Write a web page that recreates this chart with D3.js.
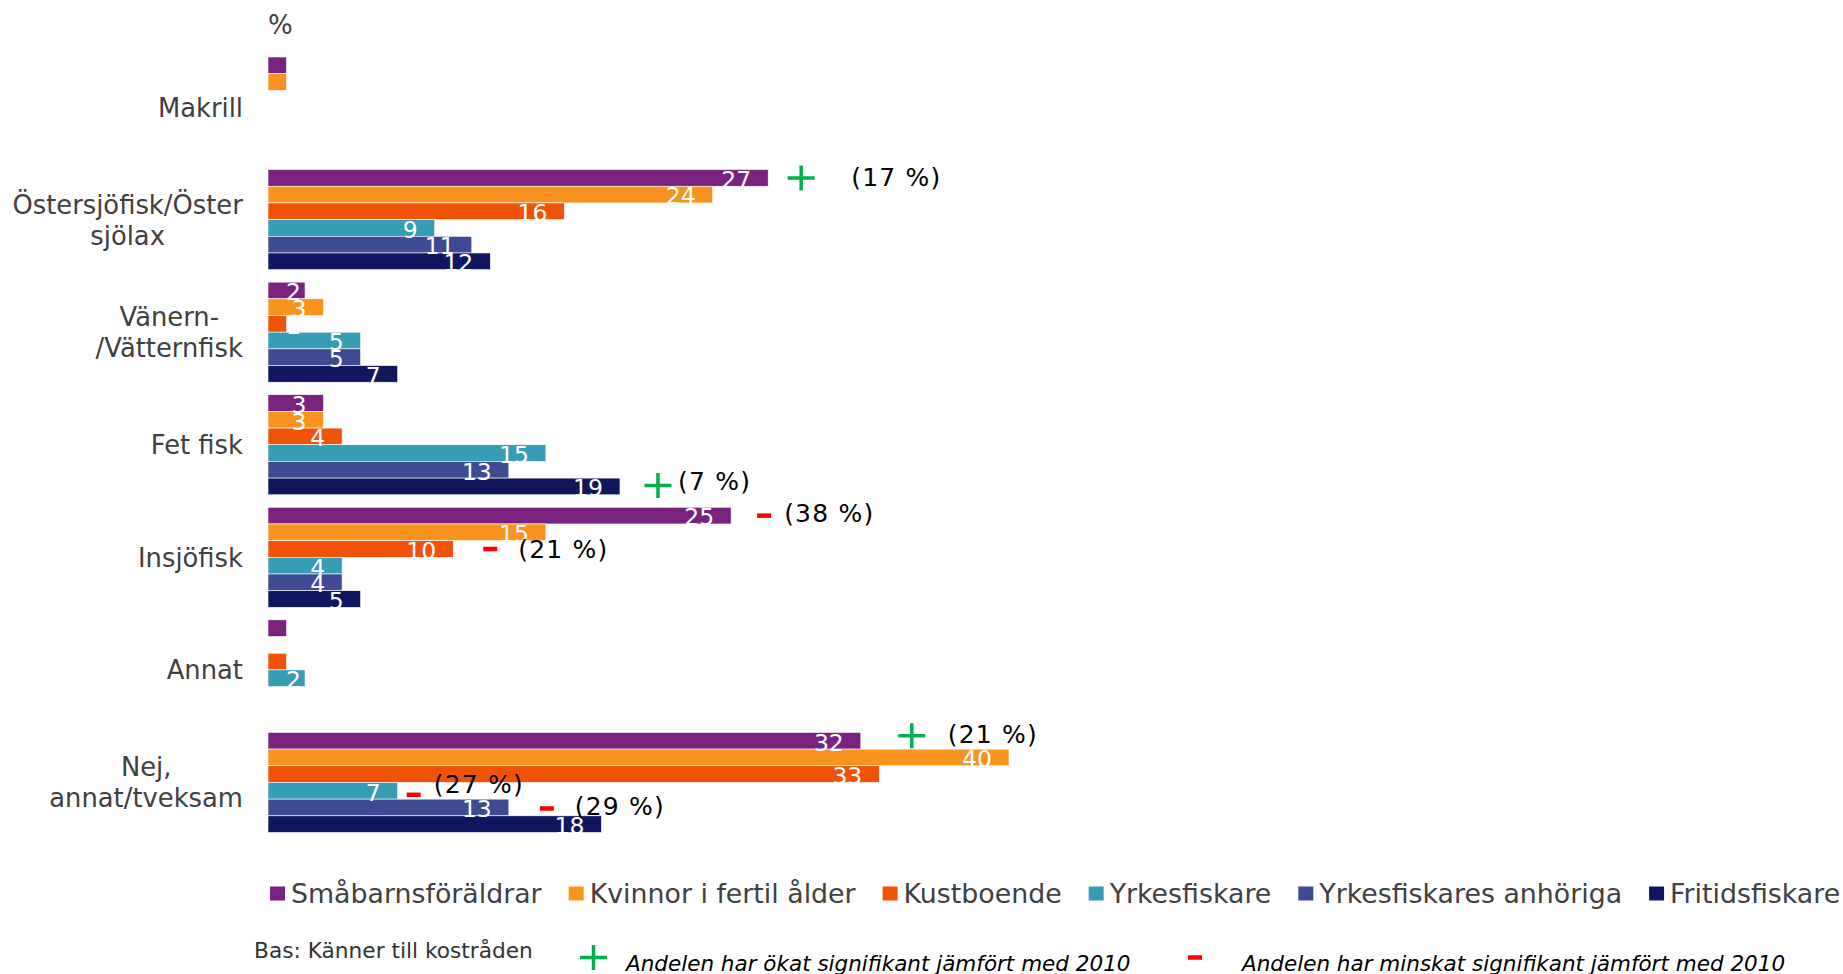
<!DOCTYPE html>
<html>
<head>
<meta charset="utf-8">
<script src="https://cdn.jsdelivr.net/npm/d3@7"></script>
<style>
body { margin: 0; background: #fff; }
svg { display: block; font-family: "DejaVu Sans", Verdana, sans-serif; }
</style>
</head>
<body>
<svg id="chart" width="1843" height="974"></svg>
<script>
// categories (\n = line break in the label)
const categories = ["Makrill", "Östersjöfisk/Öster\nsjölax", "Vänern-\n/Vätternfisk", "Fet fisk", "Insjöfisk", "Annat", "Nej,\nannat/tveksam"];
const seriesNames = ["Småbarnsföräldrar", "Kvinnor i fertil ålder", "Kustboende", "Yrkesfiskare", "Yrkesfiskares anhöriga", "Fritidsfiskare"];
const colors = ["#7a2280", "#f7931e", "#f05308", "#379db5", "#3e4a92", "#11175f"];

// values per series, one per category (null = no bar)
const smabarn    = [1, 27, 2, 3, 25, 1, 32];
const kvinnor    = [1, 24, 3, 3, 15, null, 40];
const kustboende = [null, 16, 1, 4, 10, 1, 33];
const yrkesfisk  = [null, 9, 5, 15, 4, 2, 7];
const anhoriga   = [null, 11, 5, 13, 4, null, 13];
const fritids    = [null, 12, 7, 19, 5, null, 18];
const seriesValues = [smabarn, kvinnor, kustboende, yrkesfisk, anhoriga, fritids];

// bars drawn without a value label: [category, series]
const hiddenLabels = [[0, 0], [0, 1], [5, 0], [5, 2]];

// significant changes vs 2010: [category, series, sign, text]
const changes = [
    [1, 0, "+", "(17 %)"],
    [3, 5, "+", "(7 %)"],
    [4, 0, "-", "(38 %)"],
    [4, 2, "-", "(21 %)"],
    [6, 0, "+", "(21 %)"],
    [6, 3, "-", "(27 %)"],
    [6, 4, "-", "(29 %)"]
];
// hand placement of those markers: [markerDx, textDx, textDy, markerDy]
const changeNudge = [
    [33, 83, -1, 0],
    [38, 58, -5, -1],
    [33, 53, -3, 0],
    [37, 65, 0, 0],
    [51, 87, -7, -5],
    [16, 36, -7, 4],
    [38, 66, -1, 1]
];

const svg = d3.select("#chart");

const x = d3.scaleLinear().domain([0, 40]).range([268, 1009]);
const y = d3.scaleBand()
    .domain(d3.range(categories.length))
    .range([57, 832.5])
    .paddingInner(0.111)
    .paddingOuter(0);
const ySub = d3.scaleBand()
    .domain(d3.range(seriesNames.length))
    .range([0, y.bandwidth()]);

// flatten to one record per bar
let bars = [];
categories.forEach((c, i) => {
    seriesValues.forEach((vals, j) => {
        if (vals[i] != null) bars.push({ cat: i, s: j, v: vals[i] });
    });
});

svg.append("g").selectAll("rect")
    .data(bars)
    .enter().append("rect")
    .attr("x", x(0))
    .attr("y", d => y(d.cat) + ySub(d.s))
    .attr("width", d => x(d.v) - x(0))
    .attr("height", ySub.bandwidth())
    .attr("fill", d => colors[d.s])
    .attr("stroke", "#fff")
    .attr("stroke-width", 0.6);

// value labels, white, right aligned inside the bar end
const isHidden = d => hiddenLabels.some(h => h[0] === d.cat && h[1] === d.s);
svg.append("g").selectAll("text")
    .data(bars.filter(d => !isHidden(d)))
    .enter().append("text")
    .attr("fill", "#fff")
    .attr("font-size", "23.5px")
    .attr("y", d => y(d.cat) + ySub(d.s) + ySub.bandwidth() + 1.5)
    .text(d => d.v)
    .each(function(d) {
        const w = this.getComputedTextLength();
        const start = Math.max(x(0) + 18, x(d.v) - 17 - w);
        d3.select(this).attr("x", start);
    });

// category labels through a left axis, split into centred lines
const yAxis = d3.axisLeft(d3.scalePoint()
        .domain(d3.range(categories.length))
        .range([y(0) + y.bandwidth() / 2, y(categories.length - 1) + y.bandwidth() / 2]))
    .tickSize(0)
    .tickPadding(25)
    .tickFormat(i => categories[i]);

const axisG = svg.append("g")
    .attr("transform", "translate(" + x(0) + ",0)")
    .call(yAxis);
axisG.select(".domain").remove();
axisG.selectAll(".tick text")
    .attr("font-family", "DejaVu Sans, Verdana, sans-serif")
    .attr("font-size", "25.8px")
    .attr("fill", "#404040")
    .each(function(i) {
        const lines = categories[i].split("\n");
        const t = d3.select(this).text("").attr("text-anchor", "middle").attr("dy", null);
        const lh = 31;
        lines.forEach((ln, k) => {
            t.append("tspan")
                .attr("x", 0)
                .attr("y", (k - (lines.length - 1) / 2) * lh)
                .attr("dy", "0.35em")
                .text(ln);
        });
        const w = this.getBBox().width;
        t.attr("x", null);
        t.selectAll("tspan").attr("x", -25 - w / 2);
    });

// "%" unit label
svg.append("text")
    .attr("x", x(0))
    .attr("y", 34)
    .attr("font-size", "26px")
    .attr("fill", "#404040")
    .text("%");

function drawPlus(g, cx, cy) {
    g.append("path")
        .attr("d", `M${cx - 13.5},${cy}H${cx + 13.5}M${cx},${cy - 12.5}V${cy + 12.5}`)
        .attr("stroke", "#00b050")
        .attr("stroke-width", 3.5)
        .attr("fill", "none");
}
function drawMinus(g, cx, cy) {
    g.append("rect")
        .attr("x", cx - 7)
        .attr("y", cy - 2.25)
        .attr("width", 14)
        .attr("height", 4.5)
        .attr("fill", "#ff0000");
}

// change markers next to bars
const chg = svg.append("g");
changes.forEach((c, k) => {
    const [cat, s, sign, txt] = c;
    const nd = changeNudge[k];
    const val = seriesValues[s][cat];
    const cy = y(cat) + ySub(s) + ySub.bandwidth() / 2;
    const ex = x(val);
    if (sign === "+") drawPlus(chg, ex + nd[0], cy + nd[3]);
    else drawMinus(chg, ex + nd[0], cy + nd[3]);
    chg.append("text")
        .attr("x", ex + nd[1])
        .attr("y", cy + nd[2])
        .attr("dy", "0.36em")
        .attr("font-size", "25px")
        .attr("letter-spacing", "1.2px")
        .attr("fill", "#000")
        .text(txt);
});

// legend
const legend = svg.append("g");
let lx = 270;
seriesNames.forEach((name, j) => {
    legend.append("rect")
        .attr("x", lx)
        .attr("y", 886.5)
        .attr("width", 15)
        .attr("height", 14)
        .attr("fill", colors[j]);
    const t = legend.append("text")
        .attr("x", lx + 21)
        .attr("y", 903)
        .attr("font-size", "26.8px")
        .attr("fill", "#404040")
        .text(name);
    lx += 21 + t.node().getComputedTextLength() + 27;
});

// footer
svg.append("text")
    .attr("x", 254)
    .attr("y", 958)
    .attr("font-size", "21.7px")
    .attr("fill", "#333")
    .text("Bas: Känner till kostråden");

drawPlus(svg, 593.5, 957.5);
svg.append("text")
    .attr("x", 626)
    .attr("y", 971)
    .attr("font-size", "21.5px")
    .attr("font-style", "italic")
    .attr("fill", "#000")
    .text("Andelen har ökat signifikant jämfört med 2010");

drawMinus(svg, 1195, 957.5);
svg.append("text")
    .attr("x", 1242)
    .attr("y", 971)
    .attr("font-size", "21.5px")
    .attr("font-style", "italic")
    .attr("fill", "#000")
    .text("Andelen har minskat signifikant jämfört med 2010");
</script>
</body>
</html>
